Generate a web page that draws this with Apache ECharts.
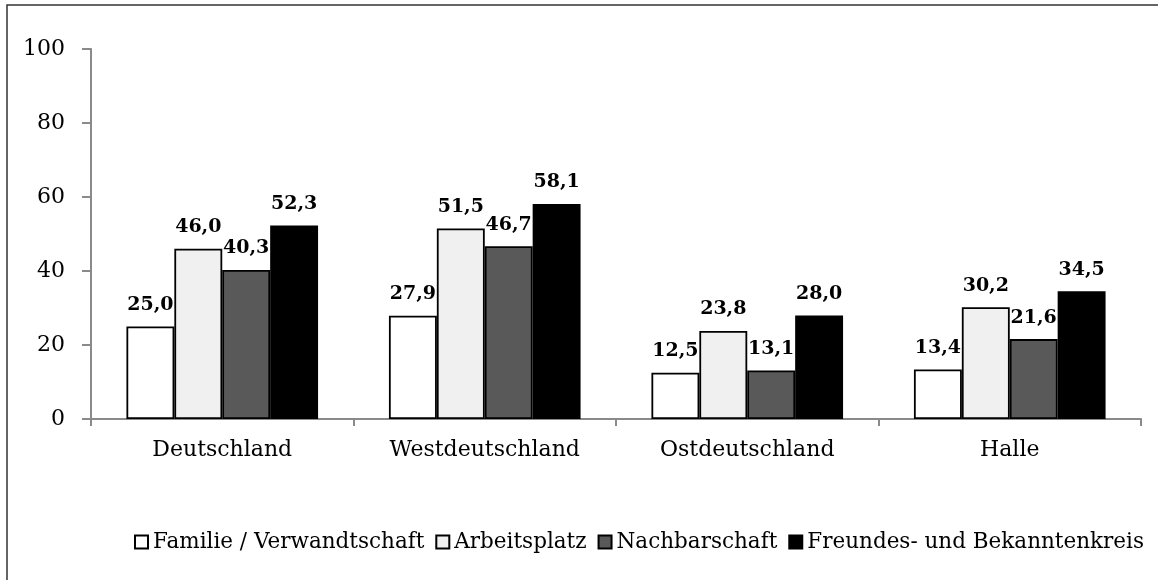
<!DOCTYPE html>
<html>
<head>
<meta charset="utf-8">
<script src="https://cdn.jsdelivr.net/npm/echarts@6/dist/echarts.min.js"></script>
<style>
  html, body { margin: 0; padding: 0; background: #fff; }
  #chart { width: 1158px; height: 580px; }
</style>
</head>
<body>
<div id="chart"></div>
<script>
// Regions shown on the category axis
const regions = ['Deutschland', 'Westdeutschland', 'Ostdeutschland', 'Halle'];

// Share (%) per context, one array per series
const familie = [25.0, 27.9, 12.5, 13.4];
const arbeitsplatz = [46.0, 51.5, 23.8, 30.2];
const nachbarschaft = [40.3, 46.7, 13.1, 21.6];
const freunde = [52.3, 58.1, 28.0, 34.5];

const seriesNames = ['Familie / Verwandtschaft', 'Arbeitsplatz', 'Nachbarschaft', 'Freundes- und Bekanntenkreis'];
const seriesData = [familie, arbeitsplatz, nachbarschaft, freunde];
const seriesColors = ['#ffffff', '#f0f0f0', '#595959', '#000000'];

const FONT = '"DejaVu Serif", serif';
const axisGray = '#8a8a8a';

const chart = echarts.init(document.getElementById('chart'), null, { renderer: 'canvas' });

chart.setOption({
  animation: false,
  backgroundColor: '#ffffff',
  textStyle: { fontFamily: FONT },
  graphic: [{
    type: 'rect',
    shape: { x: 7, y: 5, width: 1200, height: 620 },
    style: { fill: 'none', stroke: '#333333', lineWidth: 1.5 },
    silent: true
  }],
  grid: { left: 91, right: 17, top: 49, bottom: 161, containLabel: false },
  legend: {
    left: 129,
    top: 526,
    width: 1100,
    itemWidth: 13,
    itemHeight: 13,
    itemGap: 11,
    icon: 'rect',
    textStyle: { fontFamily: FONT, fontSize: 21.5, color: '#000' },
    data: seriesNames
  },
  xAxis: {
    type: 'category',
    data: regions,
    axisLine: { lineStyle: { color: axisGray, width: 2 } },
    axisTick: { show: true, length: 7, lineStyle: { color: axisGray, width: 2 } },
    axisLabel: { fontFamily: FONT, fontSize: 22, color: '#000', margin: 20 }
  },
  yAxis: {
    type: 'value',
    min: 0,
    max: 100,
    interval: 20,
    splitLine: { show: false },
    axisLine: { show: true, lineStyle: { color: axisGray, width: 2 } },
    axisTick: { show: true, length: 9, lineStyle: { color: axisGray, width: 2 } },
    axisLabel: { fontFamily: FONT, fontSize: 22, color: '#000', margin: 26 }
  },
  series: seriesNames.map((name, i) => ({
    name: name,
    type: 'bar',
    data: seriesData[i],
    barGap: '0%',
    barCategoryGap: '27%',
    itemStyle: { color: seriesColors[i], borderColor: '#000', borderWidth: 1.8 },
    label: {
      show: true,
      position: 'top',
      distance: 12,
      fontFamily: FONT,
      fontSize: 19,
      fontWeight: 'bold',
      color: '#000',
      formatter: p => p.value.toFixed(1).replace('.', ',')
    }
  }))
});
</script>
</body>
</html>
